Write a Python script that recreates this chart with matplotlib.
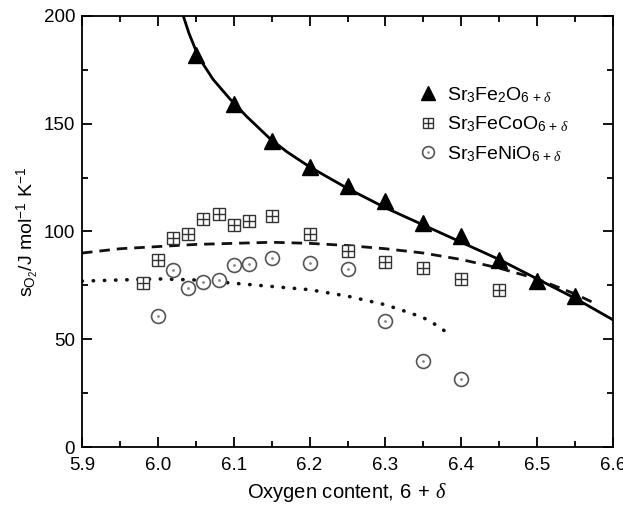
import numpy as np
import matplotlib
matplotlib.use('Agg')
import matplotlib.pyplot as plt
from matplotlib.ticker import MultipleLocator

plt.rcParams['font.family'] = ['Liberation Sans', 'DejaVu Sans']
plt.rcParams['mathtext.fontset'] = 'custom'
plt.rcParams['mathtext.rm'] = 'Liberation Sans'
plt.rcParams['mathtext.it'] = 'Liberation Serif:italic'
plt.rcParams['mathtext.bf'] = 'Liberation Sans:bold'

### DATA

# Sr3Fe2O6+d (triangles) and its fit
fe_x = [6.05, 6.10, 6.15, 6.20, 6.25, 6.30, 6.35, 6.40, 6.45, 6.50, 6.55]
fe_y = [182, 159, 142, 130, 121, 114, 104, 98, 87, 77, 70]
fe_fit_x = [6.0335, 6.041, 6.049, 6.06, 6.073, 6.095, 6.117, 6.148, 6.17, 6.20, 6.25,
            6.30, 6.35, 6.40, 6.45, 6.50, 6.55, 6.60]
fe_fit_y = [200, 192, 185, 177.5, 170.5, 161.5, 153.4, 143, 137, 130, 120,
            111, 103, 95, 87, 78, 69, 59]

# Sr3FeCoO6+d (boxed crosses) and its fit
co_x = [5.98, 6.00, 6.02, 6.04, 6.06, 6.08, 6.10, 6.12, 6.15, 6.20, 6.25, 6.30, 6.35, 6.40, 6.45]
co_y = [76, 87, 97, 99, 106, 108, 103, 105, 107, 99, 91, 86, 83, 78, 73]
co_fit_x = [5.90, 5.95, 6.00, 6.05, 6.10, 6.15, 6.20, 6.25, 6.30, 6.35, 6.40, 6.45, 6.50, 6.55, 6.58]
co_fit_y = [90, 92, 93, 94, 94.5, 95, 94.5, 93.5, 92, 90, 87, 83, 78, 71, 66]

# Sr3FeNiO6+d (circles) and its fit
ni_x = [6.00, 6.02, 6.04, 6.06, 6.08, 6.10, 6.12, 6.15, 6.20, 6.25, 6.30, 6.35, 6.40]
ni_y = [61, 82, 74, 76.5, 77.5, 84.5, 85, 87.5, 85.5, 82.5, 58.5, 40, 31.5]
ni_fit_x = [5.90, 5.95, 6.00, 6.05, 6.10, 6.15, 6.20, 6.25, 6.30, 6.33, 6.35, 6.37, 6.385]
ni_fit_y = [77, 77.5, 78, 77.5, 76, 74.5, 73, 70, 66, 62.5, 60, 56, 52]

labels = [r'Sr$_3$Fe$_2$O$_{6\,+\,\delta}$',
          r'Sr$_3$FeCoO$_{6\,+\,\delta}$',
          r'Sr$_3$FeNiO$_{6\,+\,\delta}$']

### PLOT

fig = plt.figure(figsize=(6.23, 5.09), dpi=100)
ax = fig.add_axes([0.1316, 0.1218, 0.8524, 0.8468])

ax.plot(fe_fit_x, fe_fit_y, '-', color='black', lw=2)
ax.plot(co_fit_x, co_fit_y, color='#111111', lw=2, dashes=(3.8, 2.5))
ax.plot(ni_fit_x, ni_fit_y, color='#111111', lw=2.6, dashes=(0.1, 3.0),
        dash_capstyle='round')

h1, = ax.plot(fe_x, fe_y, '^', color='black', ms=11.5, lw=0)
h2a, = ax.plot(co_x, co_y, 's', mfc='white', mec='#333333', mew=1.0, ms=8.5, lw=0)
h2b, = ax.plot(co_x, co_y, '+', mec='#333333', mew=1.0, ms=8.5, lw=0)
h3a, = ax.plot(ni_x, ni_y, 'o', mfc='white', mec='#555555', mew=1.2, ms=10, lw=0)
h3b, = ax.plot(ni_x, ni_y, '.', color='#888888', ms=2, lw=0)

leg = ax.legend([h1, (h2a, h2b), (h3a, h3b)], labels, loc='upper left',
                bbox_to_anchor=(0.615, 0.862), frameon=False, fontsize=14,
                handlelength=1.0, handletextpad=0.5, labelspacing=0.5,
                markerscale=0.85, borderpad=0)

ax.set_xlim(5.9, 6.6)
ax.set_ylim(0, 200)
ax.xaxis.set_major_locator(MultipleLocator(0.1))
ax.xaxis.set_minor_locator(MultipleLocator(0.05))
ax.yaxis.set_major_locator(MultipleLocator(50))
ax.yaxis.set_minor_locator(MultipleLocator(25))
ax.tick_params(which='both', direction='in', top=True, right=True, labelsize=13.5)
ax.tick_params(which='major', length=7, width=1.3)
ax.tick_params(which='minor', length=4, width=1.3)
ax.tick_params(axis='x', which='major', pad=7.5)
ax.tick_params(axis='y', which='major', pad=5)
for s in ax.spines.values():
    s.set_linewidth(1.3)

ax.set_xlabel(r'Oxygen content, 6$\;+\;\delta$', fontsize=14.5, labelpad=5)
ax.set_ylabel(r'$\mathrm{s_{O_2}}$/J mol$^{-1}$ K$^{-1}$', fontsize=14, labelpad=2)

plt.savefig('out.png', dpi=100)
